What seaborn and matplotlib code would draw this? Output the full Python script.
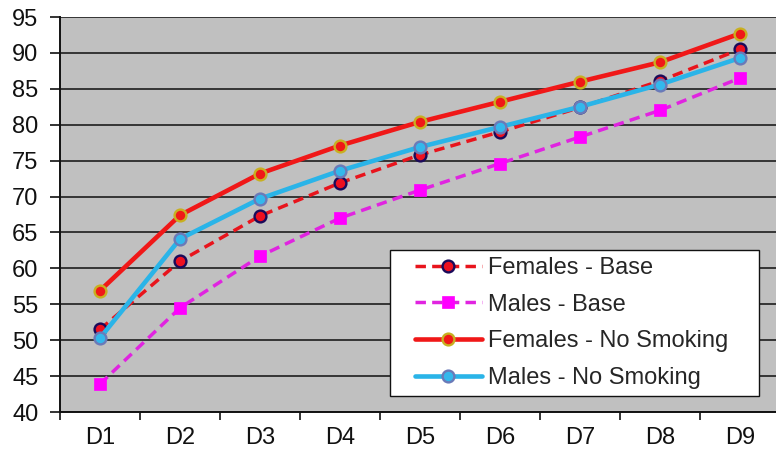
import matplotlib
matplotlib.use("Agg")
import matplotlib.pyplot as plt
from matplotlib.lines import Line2D
from matplotlib.legend_handler import HandlerLine2D
from matplotlib.ticker import FixedLocator
import numpy as np
import seaborn as sns
import pandas as pd

categories = ["D1", "D2", "D3", "D4", "D5", "D6", "D7", "D8", "D9"]
females_base = [51.5, 61.0, 67.3, 71.9, 75.8, 79.0, 82.4, 86.1, 90.5]
males_base = [43.9, 54.5, 61.7, 67.0, 70.9, 74.6, 78.3, 82.0, 86.5]
females_no_smoking = [56.9, 67.4, 73.2, 77.1, 80.4, 83.2, 86.0, 88.7, 92.7]
males_no_smoking = [50.3, 64.1, 69.7, 73.6, 76.9, 79.7, 82.5, 85.6, 89.3]
y_ticks = [40, 45, 50, 55, 60, 65, 70, 75, 80, 85, 90, 95]


class LeadingGapHandler(HandlerLine2D):
    """Legend line handle that leaves some blank space before the line."""

    def __init__(self, lead=0.0, **kw):
        super().__init__(**kw)
        self.lead = lead

    def get_xdata(self, legend, xdescent, ydescent, width, height, fontsize):
        start = -xdescent + self.lead * fontsize
        end = -xdescent + width
        return np.array([start, end]), np.array([(start + end) / 2])


sns.set_theme(style="white")
plt.rcParams["font.family"] = ["Liberation Sans", "DejaVu Sans"]

fig = plt.figure(figsize=(7.76, 4.5), dpi=100)
ax = fig.add_axes([60 / 776, 38 / 450, 720 / 776, 395 / 450])
ax.set_facecolor("#c0c0c0")

dash = (0, (3.0, 1.8))
series = [
    ("Females - Base", females_base, dict(color="#e8141c", linestyle=dash, linewidth=2.5,
                                           marker="o", markersize=8.5, markerfacecolor="#ee1020",
                                           markeredgecolor="#1a0a5a", markeredgewidth=1.7)),
    ("Males - Base", males_base, dict(color="#e024e0", linestyle=dash, linewidth=2.5,
                                       marker="s", markersize=8.5, markerfacecolor="#ff00ff",
                                       markeredgecolor="#ff00ff", markeredgewidth=0.5)),
    ("Females - No Smoking", females_no_smoking, dict(color="#f01818", linestyle="-", linewidth=3.3,
                                                       marker="o", markersize=8.5, markerfacecolor="#f01818",
                                                       markeredgecolor="#c8b020", markeredgewidth=1.7)),
    ("Males - No Smoking", males_no_smoking, dict(color="#2ab4e8", linestyle="-", linewidth=3.3,
                                                   marker="o", markersize=8.5, markerfacecolor="#33b8ec",
                                                   markeredgecolor="#6a7ab8", markeredgewidth=1.7)),
]

for label, values, style in series:
    df = pd.DataFrame({"decile": categories, "value": values})
    sns.lineplot(data=df, x="decile", y="value", ax=ax, label=label, sort=False, **style)

ax.set_xlim(-0.5, 8.5)
ax.set_ylim(40, 95)
ax.set_yticks(y_ticks)
ax.set_xticks(range(len(categories)))
ax.set_xticklabels(categories)
ax.xaxis.set_minor_locator(FixedLocator([i + 0.5 for i in range(-1, len(categories))]))

ax.grid(axis="y", color="#2a2a2a", linewidth=1.3)
ax.set_axisbelow(True)
ax.set_xlabel("")
ax.set_ylabel("")

for side in ["top", "right"]:
    ax.spines[side].set_visible(False)
for side in ["left", "bottom"]:
    ax.spines[side].set_color("#111111")
    ax.spines[side].set_linewidth(1.4)

ax.tick_params(axis="y", which="major", length=7.5, width=1.2, color="#111111",
               labelsize=17, labelcolor="#111111", pad=8, left=True)
ax.tick_params(axis="x", which="major", length=0, labelsize=17, labelcolor="#111111", pad=10.5)
ax.tick_params(axis="x", which="minor", length=5.5, width=1.2, color="#111111", bottom=True)

# legend box spans a fixed width; its entries stay left-aligned inside it
leg_left, leg_top, leg_width = 330 / 720, (412 - 250) / 395, 369 / 720
handles, labels = ax.get_legend_handles_labels()
leg = ax.legend(handles, labels, loc="upper left", mode="expand",
                bbox_to_anchor=(leg_left, leg_top - 0.5, leg_width, 0.5),
                borderaxespad=0, frameon=True, fancybox=False, framealpha=1,
                facecolor="white", edgecolor="#111111", fontsize=17,
                handlelength=3.6, handletextpad=0.25, labelspacing=0.62,
                borderpad=0.3,
                handler_map={Line2D: LeadingGapHandler(lead=0.75)})
leg.get_frame().set_linewidth(1.0)

fig.savefig("out.png", dpi=100)
